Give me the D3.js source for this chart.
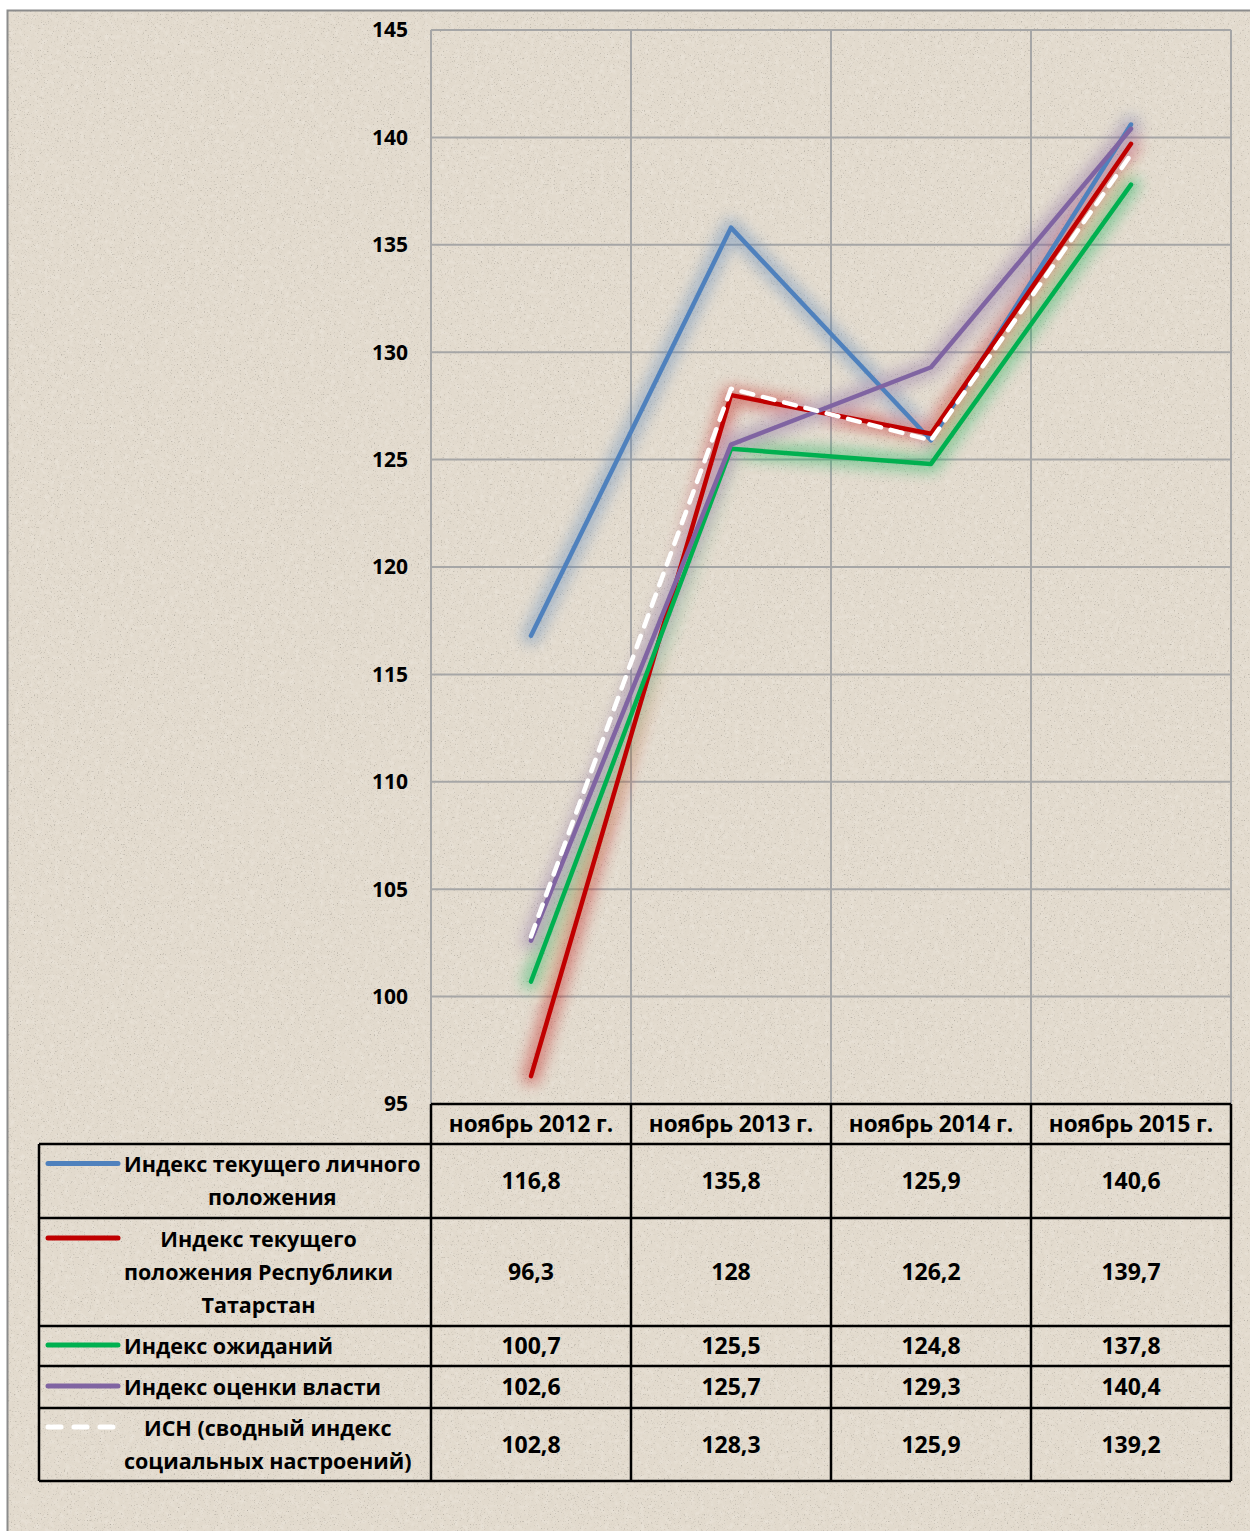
<!DOCTYPE html>
<html>
<head>
<meta charset="utf-8">
<script src="https://cdn.jsdelivr.net/npm/d3@7"></script>
<style>
  body { margin: 0; background: #fff; }
  svg text { font-family: "Open Sans", "Noto Sans", sans-serif; font-weight: bold; fill: #000; }
</style>
</head>
<body>
<svg id="chart"></svg>
<script>
// data
const categories = ["ноябрь 2012 г.", "ноябрь 2013 г.", "ноябрь 2014 г.", "ноябрь 2015 г."];
const seriesNames = [
  ["Индекс текущего личного", "положения"],
  ["Индекс текущего", "положения Республики", "Татарстан"],
  ["Индекс ожиданий"],
  ["Индекс оценки власти"],
  ["ИСН (сводный индекс", "социальных настроений)"]
];
const personal = [116.8, 135.8, 125.9, 140.6];
const republic = [96.3, 128, 126.2, 139.7];
const expectations = [100.7, 125.5, 124.8, 137.8];
const authority = [102.6, 125.7, 129.3, 140.4];
const isn = [102.8, 128.3, 125.9, 139.2];
const yTicks = [95, 100, 105, 110, 115, 120, 125, 130, 135, 140, 145];

const series = [
  {values: personal, color: "#4f81bd", dash: null, glow: true},
  {values: republic, color: "#c00000", dash: null, glow: true},
  {values: expectations, color: "#00b050", dash: null, glow: true},
  {values: authority, color: "#8064a2", dash: null, glow: true},
  {values: isn, color: "#ffffff", dash: "12,10", glow: false}
];

const W = 1250, H = 1531;
const layout = {left: 431, right: 1231, top: 30, bottom: 1104, tableLeft: 39};
// table row edges
const rowEdges = [1104, 1144, 1218, 1326, 1366, 1408, 1481];
const fs = 21.5;

const svg = d3.select("#chart").attr("width", W).attr("height", H);
const defs = svg.append("defs");

// paper texture
const tex = defs.append("filter").attr("id", "paper").attr("x", 0).attr("y", 0).attr("width", "100%").attr("height", "100%");
tex.append("feTurbulence").attr("type", "fractalNoise").attr("baseFrequency", 0.7).attr("numOctaves", 2).attr("seed", 7).attr("result", "n");
tex.append("feColorMatrix").attr("in", "n").attr("type", "matrix")
  .attr("values", "0 0 0 0 0.42  0 0 0 0 0.39  0 0 0 0 0.34  3.0 0 0 0 -1.85")
  .attr("result", "spots");
tex.append("feComposite").attr("in", "spots").attr("in2", "SourceGraphic").attr("operator", "in");

const mott = defs.append("filter").attr("id", "mottle").attr("x", 0).attr("y", 0).attr("width", "100%").attr("height", "100%");
mott.append("feTurbulence").attr("type", "fractalNoise").attr("baseFrequency", 0.2).attr("numOctaves", 3).attr("seed", 3).attr("result", "m");
mott.append("feColorMatrix").attr("in", "m").attr("type", "matrix")
  .attr("values", "0 0 0 0 1  0 0 0 0 0.98  0 0 0 0 0.95  0.5 0 0 0 -0.22");
mott.append("feComposite").attr("in2", "SourceGraphic").attr("operator", "in");

const glow = defs.append("filter").attr("id", "glow").attr("x", "-20%").attr("y", "-20%").attr("width", "140%").attr("height", "140%");
glow.append("feGaussianBlur").attr("stdDeviation", 7);

// background
svg.append("rect").attr("x", 7).attr("y", 10).attr("width", W - 7).attr("height", H - 10).attr("fill", "#e2dacd");
svg.append("rect").attr("x", 7).attr("y", 10).attr("width", W - 7).attr("height", H - 10).attr("fill", "#e2dacd").attr("filter", "url(#mottle)");
svg.append("rect").attr("x", 7).attr("y", 10).attr("width", W - 7).attr("height", H - 10).attr("fill", "#000").attr("filter", "url(#paper)");
svg.append("path").attr("d", `M7.5,${H}V10.5H${W}`).attr("fill", "none").attr("stroke", "#8c8c8c").attr("stroke-width", 2);

const x = d3.scaleBand().domain(categories).range([layout.left, layout.right]);
const y = d3.scaleLinear().domain([95, 145]).range([layout.bottom, layout.top]);

// grid
const grid = svg.append("g").attr("stroke", "#a6a6a6").attr("stroke-width", 2);
grid.selectAll(".hg").data(yTicks).join("line")
  .attr("x1", layout.left).attr("x2", layout.right)
  .attr("y1", d => y(d)).attr("y2", d => y(d));
grid.selectAll(".vg").data(categories.concat(["end"])).join("line")
  .attr("x1", (d, i) => layout.left + i * x.bandwidth()).attr("x2", (d, i) => layout.left + i * x.bandwidth())
  .attr("y1", layout.top).attr("y2", layout.bottom);

// y axis labels
svg.append("g").selectAll("text").data(yTicks).join("text")
  .attr("x", 408).attr("y", d => y(d)).attr("dy", "0.35em")
  .attr("text-anchor", "end").attr("font-size", 21)
  .text(d => d);

// lines
const line = d3.line().x((d, i) => x(categories[i]) + x.bandwidth() / 2).y(d => y(d));
const glowG = svg.append("g").attr("filter", "url(#glow)").attr("opacity", 0.4);
series.filter(s => s.glow).forEach(s => {
  glowG.append("path").attr("d", line(s.values)).attr("fill", "none")
    .attr("stroke", s.color).attr("stroke-width", 18).attr("stroke-linejoin", "round").attr("stroke-linecap", "round");
});
series.forEach(s => {
  svg.append("path").attr("d", line(s.values)).attr("fill", "none")
    .attr("stroke", s.color).attr("stroke-width", 4.5)
    .attr("stroke-linejoin", "round").attr("stroke-linecap", "round")
    .attr("stroke-dasharray", s.dash);
});

// data table
const tbl = svg.append("g");
tbl.selectAll(".hdr").data(categories).join("text")
  .attr("x", d => x(d) + x.bandwidth() / 2).attr("y", (rowEdges[0] + rowEdges[1]) / 2).attr("dy", "0.35em")
  .attr("text-anchor", "middle").attr("font-size", 22.5).text(d => d);

series.forEach((s, r) => {
  const top = rowEdges[r + 1], bot = rowEdges[r + 2];
  const mid = (top + bot) / 2;
  const names = seriesNames[r];
  const lh = 33;
  const first = mid - (names.length - 1) * lh / 2;
  // legend key
  svg.append("line").attr("x1", 48).attr("x2", 118).attr("y1", first - 1).attr("y2", first - 1)
    .attr("stroke", s.color).attr("stroke-width", 5).attr("stroke-linecap", "round")
    .attr("stroke-dasharray", s.dash ? "13,13" : null);
  const tg = tbl.append("g");
  const txt = tg.selectAll("text").data(names).join("text")
    .attr("y", (d, i) => first + i * lh).attr("dy", "0.35em").attr("font-size", fs).text(d => d);
  const maxW = d3.max(txt.nodes(), n => n.getComputedTextLength());
  txt.attr("text-anchor", "middle").attr("x", 124 + maxW / 2);
  tbl.append("g").selectAll("text").data(s.values).join("text")
    .attr("x", (d, i) => x(categories[i]) + x.bandwidth() / 2).attr("y", mid).attr("dy", "0.35em")
    .attr("text-anchor", "middle").attr("font-size", 23)
    .text(d => String(d).replace(".", ","));
});

// table borders
const bl = svg.append("g").attr("stroke", "#000").attr("stroke-width", 2.5).attr("fill", "none");
bl.append("line").attr("x1", layout.left).attr("x2", layout.right).attr("y1", rowEdges[0]).attr("y2", rowEdges[0]);
rowEdges.slice(1).forEach(e => {
  bl.append("line").attr("x1", layout.tableLeft).attr("x2", layout.right).attr("y1", e).attr("y2", e);
});
bl.append("line").attr("x1", layout.tableLeft).attr("x2", layout.tableLeft).attr("y1", rowEdges[1]).attr("y2", rowEdges[6]);
d3.range(5).forEach(i => {
  const v = layout.left + i * x.bandwidth();
  bl.append("line").attr("x1", v).attr("x2", v).attr("y1", rowEdges[0]).attr("y2", rowEdges[6]);
});
</script>
</body>
</html>
